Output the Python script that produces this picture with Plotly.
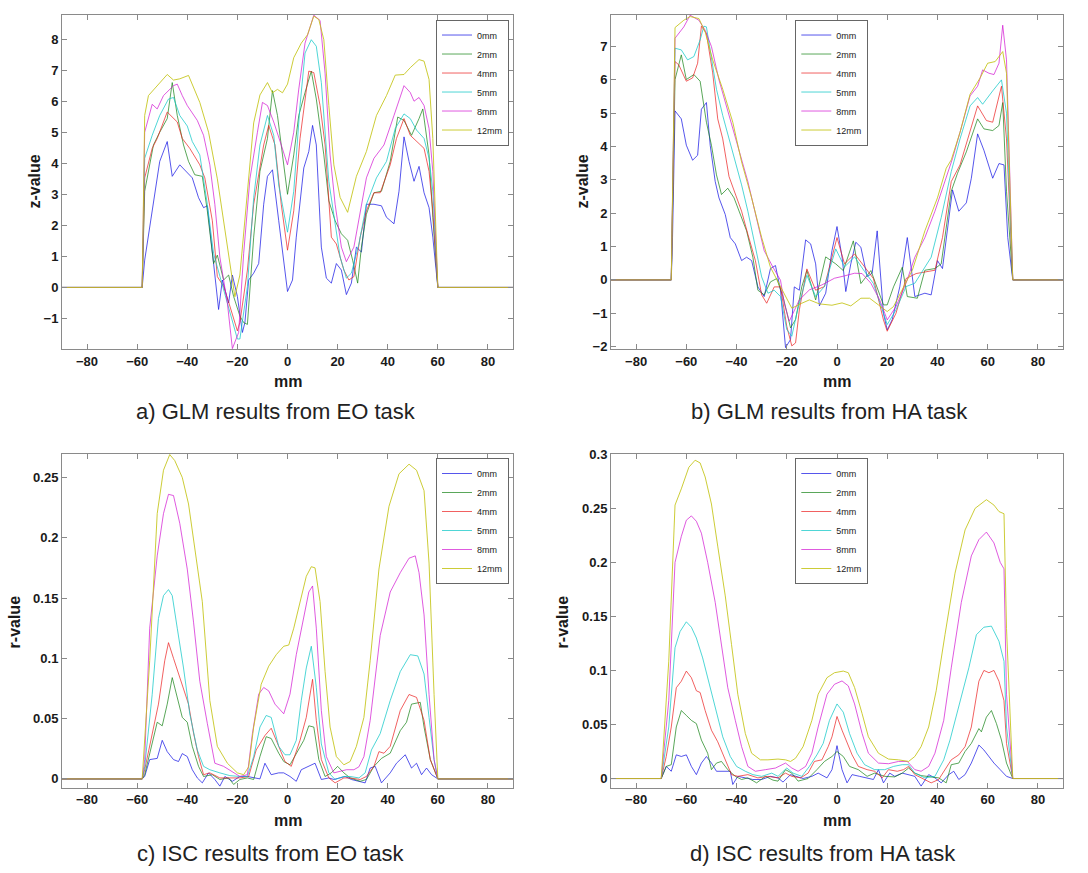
import plotly.graph_objects as go

series_names = ["0mm", "2mm", "4mm", "5mm", "8mm", "12mm"]
series_colors = ["rgba(30,30,230,0.75)", "rgba(20,130,20,0.7)", "rgba(235,30,30,0.7)",
                 "rgba(20,200,200,0.75)", "rgba(210,20,210,0.7)", "rgba(195,195,20,0.85)"]

x_ticks = [-80, -60, -40, -20, 0, 20, 40, 60, 80]

# ---------- a) GLM results from EO task (mm, z-value) ----------
a_0mm = [(-90,0),(-58,0),(-57,0.88),(-54,2.47),(-51,4.06),(-48,4.7),(-46,3.58),(-43,3.95),(-40,3.69),(-38,3.53),
         (-35.5,2.89),(-33.5,2.57),(-32,2.63),(-29.5,0.77),(-27.5,-0.71),(-26,0.24),(-23.5,-0.5),(-22,0.4),(-20,-0.29),
         (-18,-1.45),(-17,-1.13),(-15.5,0.24),(-13.5,0.46),(-11.5,0.77),(-9.5,2.68),(-8,3.58),(-6,3.79),(-3.5,2.15),
         (0,-0.13),(2,0.24),(3.5,1.62),(6.5,3.85),(8.5,4.38),(10,5.22),(11.5,4.59),(13.5,1.3),(15.5,0.3),(17.5,0.14),
         (19.5,0.77),(21.5,0.56),(23.5,-0.23),(25.5,0.14),(27.5,1.3),(29.5,1.14),(31.5,2.68),(34.5,2.68),(37.5,2.63),
         (39.5,2.26),(42.5,2.05),(44.5,3.1),(46.5,4.85),(48.5,4.06),(50.5,3.42),(52.5,3.9),(54.5,3.05),(56.5,2.57),
         (58,1.62),(60,0),(90,0)]
a_2mm = [(-90,0),(-58,0),(-57,3.1),(-53.5,4.59),(-51,5.0),(-48,5.44),(-46,6.6),(-44,5.54),(-41.5,4.59),(-39.5,4.06),
         (-37,3.63),(-34,3.58),(-32,2.47),(-29.5,0.77),(-28,1.04),(-25.5,0.24),(-23.5,0.4),(-21.5,-0.29),(-19,-0.92),
         (-17.5,-1.13),(-16,-1.19),(-13.5,1.62),(-11,3.74),(-8,4.8),(-6,6.34),(-4,5.54),(-2,4.27),(0,3.0),(2.5,4.27),
         (4.5,5.54),(7,6.28),(9.5,6.97),(11.5,6.07),(14.5,4.27),(16.5,2.79),(19,2.15),(21.5,1.73),(24,1.52),(26,0.88),
         (28,0.14),(29.5,1.3),(31.5,2.36),(34.5,3.05),(37.5,3.1),(41,4.06),(44,5.49),(46.5,5.38),(49.5,4.9),(52.5,5.44),
         (54,5.75),(56.5,4.27),(58,2.26),(60,0),(90,0)]
a_4mm = [(-90,0),(-58,0),(-57,3.53),(-54,4.48),(-52,4.8),(-48,5.65),(-44,5.33),(-42,4.8),(-39,4.48),(-35,3.95),
         (-33,3.53),(-30,2.15),(-28,0.35),(-25.5,0.03),(-23,-0.6),(-20,-1.4),(-19,-1.13),(-16,0.56),(-13.5,2.68),
         (-9.5,4.59),(-7.5,5.22),(-5,4.59),(-2.5,2.68),(0,1.2),(2.5,2.47),(5,4.8),(8.5,6.97),(10.5,6.92),(13,5.86),
         (15,4.59),(17.5,1.62),(19.5,1.4),(22.5,0.56),(24.5,0.24),(26.5,0.35),(29,1.62),(31.5,2.47),(34.5,3.05),
         (37,3.05),(41,3.95),(43.5,4.8),(46.5,5.44),(49,4.9),(51.5,4.7),(54.5,4.48),(56.5,3.74),(58,2.47),(60,0),(90,0)]
a_5mm = [(-90,0),(-58,0),(-57,4.16),(-54,4.9),(-51,5.54),(-47.5,6.07),(-45.5,6.12),(-43,5.54),(-40,5.2),(-38,4.7),
         (-35,4.27),(-32,2.68),(-29.5,1.09),(-27,0.35),(-23,-0.82),(-20,-1.66),(-19,-1.66),(-16,0.03),(-13.5,2.89),
         (-11,4.59),(-8,5.54),(-5.5,4.9),(-3.5,3.3),(0,1.78),(2.5,3.1),(5,5.86),(7,7.55),(9.5,7.98),(11.5,7.77),
         (13.5,6.6),(16.5,3.42),(18.5,2.26),(21,0.98),(23.5,0.3),(25.5,0.46),(28.5,1.4),(31.5,2.68),(35.5,3.53),
         (39.5,4.06),(43,5.12),(46.5,5.59),(49,5.44),(51.5,5.07),(54.5,4.8),(56.5,4.16),(58,3.1),(60,0),(90,0)]
a_8mm = [(-90,0),(-58,0),(-57,5.0),(-54,5.9),(-52,5.75),(-49.5,6.18),(-45.5,6.5),(-44,6.55),(-42,6.18),(-40,5.86),
         (-36,5.38),(-33.5,4.9),(-31,3.95),(-29,2.68),(-27,0.98),(-24,-0.5),(-22,-1.97),(-19.5,-1.45),(-17.5,1.09),
         (-15,3.5),(-12,5.0),(-10,5.96),(-8,5.86),(-5.5,5.33),(-2.5,4.59),(0,3.95),(2.5,5.0),(4.5,6.39),(7,7.87),
         (10.5,8.77),(13,8.6),(15,6.9),(17,4.27),(19,2.68),(21.5,1.3),(23.5,0.83),(26.5,1.3),(29,2.47),(31.5,3.53),
         (34.5,4.16),(38.5,4.59),(42.5,5.54),(46.5,6.5),(49,6.28),(50.5,6.0),(52.5,6.12),(54.5,5.86),(56.5,5.12),
         (58,3.74),(60,0),(90,0)]
a_12mm = [(-90,0),(-58,0),(-57,5.54),(-55.5,6.18),(-48,6.86),(-45.5,6.68),(-43,6.72),(-39.5,6.83),(-35,5.96),
          (-31.5,5.0),(-28,3.5),(-24,1.4),(-21,-0.3),(-19,0.4),(-16,3.1),(-13.5,5.3),(-11,6.2),(-8,6.6),(-6,6.27),
          (-4,6.38),(-2,6.27),(0,6.55),(2.5,7.4),(5.5,7.87),(8,8.14),(10.5,8.74),(12.5,8.63),(14.5,7.98),(16.5,5.86),
          (18.5,3.95),(21,2.9),(24,2.42),(27.5,3.58),(31.5,4.38),(35.5,5.54),(39.5,6.18),(43,6.84),(46.5,6.86),
          (49,7.08),(52.5,7.34),(54.5,7.29),(56.5,6.7),(58,4.8),(60,0),(90,0)]

# ---------- b) GLM results from HA task (mm, z-value) ----------
b_0mm = [(-90,0),(-66,0),(-65.5,1.27),(-64.5,5.07),(-62,4.83),(-60,4.04),(-57.5,3.59),(-55.5,3.74),(-54,5.12),
         (-52,5.32),(-50.5,4.04),(-48.5,2.95),(-47,2.46),(-44.5,1.96),(-42.5,1.27),(-40.5,1.08),(-38,0.58),(-36,0.68),
         (-34,0.58),(-31.5,-0.21),(-29,-0.5),(-26.5,0.34),(-24.5,0.43),(-22.5,-0.31),(-20.5,-2.03),(-18.5,-1.79),
         (-17,-0.21),(-15,-0.31),(-12.5,1.2),(-10.5,1.08),(-8.5,0.48),(-7,-0.78),(-4.5,-0.4),(-2,0.88),(0,1.6),
         (2,0.69),(3.5,-0.35),(5.5,0.48),(7.5,1.13),(9.5,0.98),(12,0.1),(14,0.2),(16,1.47),(18.5,-1.0),(20,-1.5),
         (22,-1.19),(25,-0.21),(28,1.27),(31,-0.5),(35,-0.4),(37.5,-0.45),(40,0.58),(42,0.34),(46,2.7),(48.5,2.06),
         (51.5,2.31),(53.5,3.05),(56,4.38),(58.5,3.89),(62,3.05),(64.5,3.49),(66.5,3.45),(68,1.27),(70,0),(90,0)]
b_2mm = [(-90,0),(-66,0),(-64.5,6.01),(-62,6.75),(-60,6.01),(-57,6.16),(-54.5,5.96),(-52,4.73),(-50,4.04),(-48,3.15),
         (-46,2.56),(-43.5,2.75),(-41,2.46),(-38.5,1.96),(-36,1.47),(-33.5,0.68),(-31.5,-0.31),(-29,-0.45),
         (-26.5,-0.06),(-24,0.04),(-21.5,-0.5),(-18.5,-1.44),(-16.5,-1.19),(-14,-0.2),(-12,0.28),(-8.5,-0.6),
         (-4.5,0.69),(-0.5,0.48),(2.5,0.28),(6.5,1.17),(9.5,-0.11),(13.5,0.28),(18.5,-0.75),(20,-0.75),(22.5,-0.21),
         (26,0.38),(28,-0.5),(32,-0.55),(35,0.29),(39,0.34),(41.5,0.48),(45.5,2.66),(48,3.2),(51.5,3.84),(56,4.83),
         (58.5,4.53),(62,4.48),(64.5,4.63),(66,5.32),(67.5,2.66),(70,0),(90,0)]
b_4mm = [(-90,0),(-66,0),(-64.5,6.55),(-63,6.45),(-60,5.96),(-57.5,6.06),(-55.5,6.5),(-54,7.61),(-52,7.39),
         (-49.5,6.21),(-47.5,4.83),(-45.5,4.23),(-43,3.1),(-40.5,2.56),(-38,2.06),(-35.5,1.37),(-32.5,0.58),
         (-30,-0.45),(-28,-0.7),(-25,-0.21),(-22.5,-0.21),(-20,-1.39),(-18,-1.98),(-16.5,-1.89),(-15,-0.9),(-12,0.33),
         (-8.5,-0.31),(-5,-0.2),(0,1.27),(3,0.48),(7,0.78),(11,0.39),(14.5,0.04),(18.5,-1.2),(20,-1.54),(23.5,-1.0),
         (27.5,0.04),(31.5,0.19),(35,0.24),(39,0.29),(42,1.27),(45.5,2.95),(49,3.45),(53,4.43),(56,5.22),(59.5,4.78),
         (62,4.73),(65.5,5.81),(67.5,4.23),(70,0),(90,0)]
b_5mm = [(-90,0),(-66,0),(-64.5,6.95),(-62,6.9),(-59.5,6.6),(-57,6.7),(-54.5,7.2),(-53,7.61),(-52,7.59),(-50,6.6),
         (-48,5.72),(-45.5,4.93),(-43,4.23),(-40.5,3.54),(-38,2.85),(-35.5,2.06),(-32.5,0.98),(-30,0.09),(-27.5,-0.4),
         (-25,-0.31),(-22.5,-0.5),(-20,-1.49),(-18,-1.69),(-16,-1.0),(-12,0.14),(-8.5,-0.5),(-5,-0.2),(-0.5,0.93),
         (3,0.39),(7,0.69),(11,0.25),(14.5,-0.11),(18.5,-1.0),(20,-1.34),(23.5,-0.9),(27.5,-0.2),(31,-0.1),(35,0.38),
         (37.5,0.68),(41.5,1.87),(45.5,3.25),(49,4.23),(53,5.22),(56,5.47),(58,5.27),(62,5.67),(65.5,6.0),(67.5,5.0),
         (70,0),(90,0)]
b_8mm = [(-90,0),(-66,0),(-64.5,7.25),(-61,7.59),(-58.5,7.94),(-55,7.79),(-52.5,7.49),(-50,7.0),(-47,6.0),(-43,4.93),
         (-39,3.94),(-35.5,2.95),(-31.5,1.67),(-29,0.88),(-25.5,0.38),(-22.5,-0.01),(-21,-0.7),(-19,-1.24),(-15,-0.6),
         (-11,-0.3),(-6,-0.15),(-1,0.05),(3,0.12),(7,0.2),(10,0.19),(13.5,-0.1),(17,-0.6),(20,-1.2),(23.5,-0.8),
         (27.5,-0.1),(31,0.68),(35,1.27),(39,2.06),(42.5,2.85),(46,3.64),(49,4.43),(53,5.52),(56,5.81),(58,6.3),
         (60.5,6.2),(62.5,6.16),(64.5,6.5),(66,7.64),(67.5,6.6),(70,0),(90,0)]
b_12mm = [(-90,0),(-66,0),(-64.5,7.57),(-61,7.79),(-58.5,7.9),(-55,7.84),(-52.5,7.44),(-49.5,6.6),(-45.5,5.72),
          (-41.5,4.73),(-38,3.54),(-34,2.46),(-30,1.27),(-26.5,0.38),(-22.5,-0.2),(-18,-0.85),(-14,-0.7),(-11,-0.6),
          (-7,-0.72),(-2,-0.76),(2,-0.69),(5.5,-0.78),(9.5,-0.55),(13,-0.55),(16.5,-0.75),(20,-0.95),(22.5,-0.8),
          (26,-0.3),(30,0.29),(35,1.47),(40,2.46),(43.5,3.35),(45.5,3.6),(49,4.43),(53,5.57),(57,6.06),(60,6.5),
          (63,6.55),(66,6.85),(67.5,6.2),(70,0),(90,0)]

# ---------- c) ISC results from EO task (mm, r-value) ----------
c_0mm = [(-90,0),(-58,0),(-57,0.002),(-55,0.016),(-52,0.017),(-50,0.032),(-48,0.0226),(-45.5,0.016),(-43.5,0.0144),
         (-42,0.021),(-40,0.0185),(-38,0.0076),(-36,0.0008),(-34,-0.0033),(-31.5,0.005),(-29,-0.0005),(-27,-0.006),
         (-25,0.002),(-22,-0.002),(-19,0.002),(-16,0.002),(-13.5,0.0008),(-11,0),(-9,0.013),(-6.5,0.0035),
         (-3.5,0.005),(-1.5,0.005),(1,0.002),(3.5,-0.002),(5.5,0.0076),(8.5,0.0104),(11,0.013),(13.5,-0.0005),
         (16.5,0.0008),(18.5,-0.0005),(20.5,0.0008),(23,0.002),(25.5,-0.0005),(28.5,-0.002),(31,-0.0033),(33,0.009),
         (35,0.0104),(37.5,-0.0033),(41,0.005),(43.5,0.013),(47,0.02),(49.5,0.009),(51.5,0.013),(53.5,0.0035),
         (55.5,0.009),(57.5,0.0035),(60,0),(90,0)]
c_2mm = [(-90,0),(-58,0),(-57,0.0035),(-54,0.029),(-52,0.047),(-50,0.044),(-48,0.062),(-46,0.084),(-45,0.076),
         (-42,0.051),(-40,0.047),(-38,0.027),(-35.5,0.0104),(-33.5,0.002),(-30,0.0035),(-27,-0.0005),(-23.5,0.0008),
         (-21.5,-0.0046),(-19,-0.0005),(-16,0.0008),(-13.5,-0.0005),(-11,0.0185),(-8.5,0.035),(-6.5,0.0335),
         (-3.5,0.0213),(-1.5,0.0144),(1,0.0117),(3.5,0.0213),(6.5,0.032),(8.5,0.044),(10.5,0.043),(12.5,0.016),
         (15,0.002),(17.5,0.005),(20,0.0104),(22.5,0.005),(25,0.0008),(29,-0.002),(31.5,-0.0005),(34.5,0.0104),
         (37.5,0.017),(41,0.0213),(45,0.04),(47.5,0.047),(49.5,0.062),(53,0.0635),(54.5,0.043),(57,0.016),(60,0),(90,0)]
c_4mm = [(-90,0),(-58,0),(-57,0.0076),(-54,0.038),(-51.5,0.062),(-49,0.098),(-47.5,0.113),(-45.5,0.1),(-43.5,0.087),
         (-41.5,0.076),(-39.5,0.062),(-37.5,0.038),(-35.5,0.0185),(-33.5,0.0035),(-31,0.005),(-27,0.0008),
         (-23,0.0008),(-19,0.0008),(-15.5,0.002),(-12.5,0.024),(-9,0.036),(-6.5,0.042),(-3.5,0.027),(-1,0.0144),
         (1.5,0.0104),(5,0.032),(7.5,0.051),(10,0.0826),(11.5,0.0485),(13.5,0.016),(16.5,0.0008),(19,-0.0033),
         (22.5,0.0008),(25,0.0008),(29,-0.0005),(31.5,0.002),(34.5,0.0104),(36.5,0.0226),(38.5,0.0213),(41,0.027),
         (45,0.0567),(48.5,0.07),(51.5,0.0676),(54.5,0.0485),(57,0.016),(60,0),(90,0)]
c_5mm = [(-90,0),(-58,0),(-57,0.01),(-54,0.07),(-51.5,0.133),(-49.5,0.152),(-47.5,0.157),(-46,0.152),(-44,0.125),
         (-41.5,0.092),(-39,0.054),(-36,0.024),(-33.5,0.0104),(-31,0.0076),(-27,0.005),(-23,0.0027),(-19,0.002),
         (-16,0.002),(-13.5,0.0185),(-11,0.043),(-8.5,0.0526),(-6.5,0.051),(-3.5,0.027),(-1,0.02),(1,0.02),
         (3.5,0.032),(5.5,0.065),(7.5,0.092),(9.5,0.11),(11.5,0.076),(13.5,0.029),(16.5,0.005),(19,-0.0005),
         (22.5,0.002),(25,0.002),(28.5,0.0008),(31,0.005),(33.5,0.024),(37,0.0376),(41,0.065),(45,0.089),(49,0.103),
         (52,0.102),(54.5,0.087),(56.5,0.051),(58.5,0.016),(60,0),(90,0)]
c_8mm = [(-90,0),(-58,0),(-57,0.016),(-55,0.125),(-52,0.185),(-49.5,0.22),(-47.5,0.236),(-45.5,0.235),(-43,0.212),
         (-40,0.174),(-37.5,0.13),(-35,0.081),(-32,0.046),(-29,0.013),(-25.5,0.0104),(-21.5,0.005),(-19,0.002),
         (-16,0.0035),(-14,0.0376),(-11.5,0.0703),(-9.5,0.0758),(-7.5,0.073),(-5,0.062),(-1.5,0.054),(1,0.0703),
         (3.5,0.103),(6.5,0.136),(8.5,0.155),(10,0.16),(11.5,0.125),(13.5,0.0567),(15.5,0.0185),(18.5,0.005),
         (21,0.0063),(23.5,0.0076),(26.5,0.0076),(28.5,0.01),(30.5,0.0185),(33,0.0485),(37,0.119),(41,0.155),
         (45,0.171),(48.5,0.183),(51,0.185),(52.5,0.171),(54.5,0.136),(56.5,0.07),(58.5,0.016),(60,0),(90,0)]
c_12mm = [(-90,0),(-58,0),(-55,0.098),(-52,0.22),(-49.5,0.256),(-47,0.269),(-45,0.264),(-42,0.25),(-39.5,0.228),
          (-37,0.193),(-34,0.147),(-31,0.065),(-28,0.027),(-24,0.013),(-20,0.005),(-17.5,0.0035),(-15.5,0.01),
          (-13.5,0.043),(-10.5,0.0785),(-7.5,0.0935),(-4.5,0.103),(-1.5,0.11),(0.5,0.111),(2.5,0.125),(5,0.147),
          (7.5,0.168),(9.5,0.176),(11,0.175),(13,0.147),(15,0.089),(17,0.043),(19.5,0.0185),(22.5,0.0117),(25,0.0144),
          (27.5,0.027),(30.5,0.051),(33,0.098),(36.5,0.174),(40.5,0.226),(44.5,0.253),(48.5,0.261),(51.5,0.256),
          (54.5,0.239),(56.5,0.179),(58.5,0.07),(60,0),(90,0)]

# ---------- d) ISC results from HA task (mm, r-value) ----------
d_0mm = [(-90,0),(-70,0),(-68,0.0112),(-66,0.0067),(-64,0.0219),(-62,0.0204),(-60,0.0219),(-58,0.0112),(-56,0.0036),
         (-54,0.0143),(-52,0.0204),(-50,0.0143),(-48,0.0067),(-45.5,0.0067),(-42.5,0.0067),(-41.5,-0.0055),
         (-39.5,0.002),(-36.5,0.0006),(-33.5,-0.0009),(-30,-0.0009),(-26.5,0.002),(-23.5,0.0006),(-21.5,-0.0033),
         (-18.5,0.0036),(-16,0.002),(-13.5,0),(-10,0.002),(-7.5,0.005),(-4,0.0006),(-2,0.0082),(0,0.0304),(2,0.0082),
         (4,-0.004),(6,0.0036),(9,0.002),(12,0.0006),(14.5,-0.0009),(16.5,0.0082),(18.5,-0.004),(21,0.005),(23,0.002),
         (26,0.005),(28.5,0.0036),(31,0.002),(33.5,-0.007),(36.5,0.0036),(39,0.0006),(41.5,-0.004),(44.5,0.0036),
         (46.5,0.0067),(48.5,-0.0009),(51,0.0036),(53.5,0.0143),(56.5,0.031),(58.5,0.0264),(60.5,0.0204),
         (62.5,0.0143),(65,0.0082),(67.5,0.002),(70,0),(90,0)]
d_2mm = [(-90,0),(-70,0),(-68,0.0112),(-66,0.0128),(-64,0.0477),(-62,0.0629),(-60,0.0584),(-58,0.0538),(-56,0.0508),
         (-54,0.0356),(-51.5,0.0234),(-50,0.0082),(-48,0.0143),(-46,0.0158),(-43.5,0.0082),(-40.5,0.002),
         (-38,-0.0009),(-35.5,0.0006),(-32,-0.004),(-28.5,0.002),(-25.5,-0.0015),(-23.5,-0.0024),(-20.5,0.0082),
         (-18,0.005),(-15.5,-0.0024),(-11.5,0),(-8,0.0082),(-5,0.0158),(-2,0.0204),(0,0.025),(2.5,0.0204),(5,0.0112),
         (8.5,0.0082),(12,0.002),(15,0.005),(19,0.002),(23,0.0015),(26,0.005),(28.5,0.0097),(31,0.005),(33.5,0.0027),
         (37.5,0.0015),(40.5,0.0006),(43.5,-0.004),(45.5,0.0128),(48.5,0.0143),(51,0.025),(53.5,0.0325),
         (56.5,0.0462),(57.5,0.0432),(59.5,0.0568),(61.5,0.0629),(63.5,0.0508),(65.5,0.0356),(67.5,0.0143),(70,0),(90,0)]
d_4mm = [(-90,0),(-70,0),(-68,0.0204),(-66,0.0477),(-64,0.084),(-62,0.09),(-60,0.0994),(-58,0.0933),(-56,0.0812),
         (-54.5,0.0796),(-52.5,0.0629),(-50,0.0447),(-47.5,0.034),(-44.5,0.0173),(-42,0.0036),(-39.5,0.002),
         (-35.5,0.0036),(-31.5,0.0006),(-27.5,0.002),(-23.5,0.0006),(-20.5,0.005),(-18,0.002),(-14.5,0.0006),
         (-11.5,0.005),(-9,0.0158),(-6,0.0173),(-3.5,0.0295),(-2,0.0386),(0,0.0574),(2,0.0447),(4,0.0325),(6,0.0219),
         (8.5,0.0112),(12,0.0082),(15,0.0067),(18,0.0006),(20.5,0.0082),(24,0.0067),(26.5,0.0082),(28.5,0.0112),
         (31,0.0036),(35,-0.0009),(37.5,-0.004),(40.5,-0.0009),(43,0.0082),(45.5,0.0173),(48.5,0.0219),(51,0.0295),
         (53.5,0.0477),(56.5,0.09),(58.5,0.1),(60.5,0.0979),(62.5,0.1),(64.5,0.09),(66.5,0.072),(67.5,0.0325),
         (70,0),(90,0)]
d_5mm = [(-90,0),(-70,0),(-67,0.0477),(-64.5,0.121),(-62.5,0.136),(-60,0.145),(-58,0.14),(-56,0.13),(-53.5,0.1116),
         (-50.5,0.084),(-48,0.06),(-45.5,0.0386),(-42.5,0.0204),(-40,0.0112),(-36.5,0.0067),(-33.5,0.0036),
         (-30,0.002),(-26,0.005),(-23.5,0.002),(-20,0.0097),(-17.5,0.005),(-14,0.002),(-11,0.0112),(-8,0.0219),
         (-5.5,0.0325),(-3,0.0538),(0,0.069),(2.5,0.0614),(5,0.0416),(8,0.0234),(11,0.0128),(15,0.0082),(19,0.0082),
         (22.5,0.0112),(26,0.0128),(28.5,0.0128),(31,0.005),(35,0.0006),(39,0.002),(42.5,0.0173),(45,0.0356),
         (48.5,0.066),(52.5,0.1024),(55.5,0.133),(58.5,0.14),(61.5,0.141),(64.5,0.127),(66.5,0.1085),(67.5,0.0477),
         (70,0),(90,0)]
d_8mm = [(-90,0),(-70,0),(-67,0.072),(-64.5,0.2),(-62,0.224),(-60,0.239),(-58,0.243),(-56,0.238),(-54,0.227),
         (-51.5,0.2),(-48.5,0.163),(-46,0.124),(-43.5,0.084),(-40.5,0.0538),(-38,0.0295),(-35.5,0.0112),
         (-32.5,0.0067),(-28.5,0.0082),(-24.5,0.0097),(-20.5,0.0143),(-18,0.0097),(-15.5,0.0067),(-12.5,0.0112),
         (-10,0.0234),(-7.5,0.0477),(-4,0.078),(-1,0.0872),(2,0.0903),(4.5,0.0857),(7,0.069),(10,0.0416),
         (12.5,0.0234),(16.5,0.0143),(20.5,0.0137),(24.5,0.0158),(28,0.0158),(31,0.0082),(33.5,0.0067),(36.5,0.0112),
         (39,0.0234),(42.5,0.0538),(45.5,0.1024),(49.5,0.163),(53.5,0.206),(56.5,0.221),(59.5,0.228),(62.5,0.218),
         (65,0.2),(66.5,0.194),(67.5,0.078),(70,0),(90,0)]
d_12mm = [(-90,0),(-70,0),(-67,0.1085),(-64.5,0.253),(-62,0.268),(-59,0.288),(-56.5,0.2945),(-54.5,0.292),
          (-52.5,0.279),(-50,0.254),(-47.5,0.215),(-44.5,0.169),(-42,0.124),(-39.5,0.078),(-36.5,0.0416),(-34,0.0234),
          (-30.5,0.0173),(-27.5,0.0173),(-23.5,0.018),(-20.5,0.0173),(-18.5,0.0158),(-16.5,0.0188),(-13.5,0.0295),
          (-10,0.0538),(-7.5,0.078),(-4,0.0933),(-1,0.0979),(2.5,0.0994),(4.5,0.0979),(7,0.0842),(10,0.06),
          (12.5,0.0386),(16.5,0.0234),(20.5,0.018),(24.5,0.0173),(28.5,0.0158),(31,0.0204),(33.5,0.0295),
          (36.5,0.0477),(39.5,0.0812),(43,0.133),(47,0.19),(51,0.23),(55,0.25),(59.5,0.258),(62.5,0.253),
          (64.5,0.247),(66.5,0.245),(67.5,0.139),(70,0),(90,0)]

panels = [
    dict(series=[a_0mm, a_2mm, a_4mm, a_5mm, a_8mm, a_12mm], xa="x", ya="y", legend="legend"),
    dict(series=[b_0mm, b_2mm, b_4mm, b_5mm, b_8mm, b_12mm], xa="x2", ya="y2", legend="legend2"),
    dict(series=[c_0mm, c_2mm, c_4mm, c_5mm, c_8mm, c_12mm], xa="x3", ya="y3", legend="legend3"),
    dict(series=[d_0mm, d_2mm, d_4mm, d_5mm, d_8mm, d_12mm], xa="x4", ya="y4", legend="legend4"),
]

W, H = 1088, 873
def px(v):
    return v / W
def py(v):
    return 1 - v / H

fig = go.Figure()
for p in panels:
    for name, color, pts in zip(series_names, series_colors, p["series"]):
        xs = [q[0] for q in pts]
        ys = [q[1] for q in pts]
        fig.add_trace(go.Scatter(x=xs, y=ys, mode="lines", name=name,
                                 line=dict(color=color, width=1),
                                 xaxis=p["xa"], yaxis=p["ya"], legend=p["legend"]))

axis_style = dict(showline=True, linecolor="#8a8a8a", linewidth=1, mirror="ticks",
                  ticks="inside", ticklen=5, tickcolor="#8a8a8a", showgrid=False, zeroline=False,
                  tickfont=dict(family="Liberation Sans, Arial, sans-serif", size=13, color="#1a1a1a", weight="bold"))

left_dom = [px(62), px(513)]
right_dom = [px(611), px(1063)]
top_dom = [py(347), py(8)]
bot_dom = [py(791.7), py(453.3)]

fig.update_layout(
    width=W, height=H, margin=dict(l=0, r=0, t=0, b=0),
    paper_bgcolor="white", plot_bgcolor="white",
    font=dict(family="Liberation Sans, Arial, sans-serif", color="#1a1a1a"),
    xaxis=dict(domain=left_dom, anchor="y", range=[-90, 90], tickvals=x_ticks, **axis_style),
    yaxis=dict(domain=top_dom, anchor="x", range=[-1.99, 8.78], dtick=1, tick0=0, **axis_style),
    xaxis2=dict(domain=right_dom, anchor="y2", range=[-90, 90], tickvals=x_ticks, **axis_style),
    yaxis2=dict(domain=top_dom, anchor="x2", range=[-2.08, 7.95], dtick=1, tick0=0, **axis_style),
    xaxis3=dict(domain=left_dom, anchor="y3", range=[-90, 90], tickvals=x_ticks, **axis_style),
    yaxis3=dict(domain=bot_dom, anchor="x3", range=[-0.0074, 0.2694], dtick=0.05, tick0=0, **axis_style),
    xaxis4=dict(domain=right_dom, anchor="y4", range=[-90, 90], tickvals=x_ticks, **axis_style),
    yaxis4=dict(domain=bot_dom, anchor="x4", range=[-0.0086, 0.3002], dtick=0.05, tick0=0, **axis_style),
)

legend_style = dict(xanchor="right", yanchor="top", bgcolor="white", bordercolor="#666666", borderwidth=1,
                    font=dict(size=9, color="#222222"), tracegroupgap=0, itemwidth=30)
fig.update_layout(
    legend=dict(x=px(509), y=py(12.7), **legend_style),
    legend2=dict(x=px(868.3), y=py(12.7), **legend_style),
    legend3=dict(x=px(509), y=py(457.3), **legend_style),
    legend4=dict(x=px(868.3), y=py(457.3), **legend_style),
)

annotations = []
def ann(text, x, y, size, bold=False, angle=0, color="#1a1a1a"):
    annotations.append(dict(text=text, x=px(x), y=py(y), xref="paper", yref="paper",
                            xanchor="center", yanchor="middle", showarrow=False, textangle=angle,
                            font=dict(size=size, color=color, weight="bold" if bold else "normal",
                                      family="Liberation Sans, Arial, sans-serif")))

# axis titles
ann("mm", 287.5, 380, 16, bold=True)
ann("mm", 837, 380, 16, bold=True)
ann("mm", 287.5, 825, 16, bold=True)
ann("mm", 837, 825, 16, bold=True)
ann("z-value", 35, 177, 16, bold=True, angle=-90)
ann("z-value", 583, 177, 16, bold=True, angle=-90)
ann("r-value", 14, 624, 16, bold=True, angle=-90)
ann("r-value", 562, 624, 16, bold=True, angle=-90)
# captions
ann("a) GLM results from EO task", 276, 410, 22, color="#222222")
ann("b) GLM results from HA task", 829, 410, 22, color="#222222")
ann("c) ISC results from EO task", 270, 858, 22, color="#222222")
ann("d) ISC results from HA task", 823, 858, 22, color="#222222")
fig.update_layout(annotations=annotations)

fig.write_html("out.html")
